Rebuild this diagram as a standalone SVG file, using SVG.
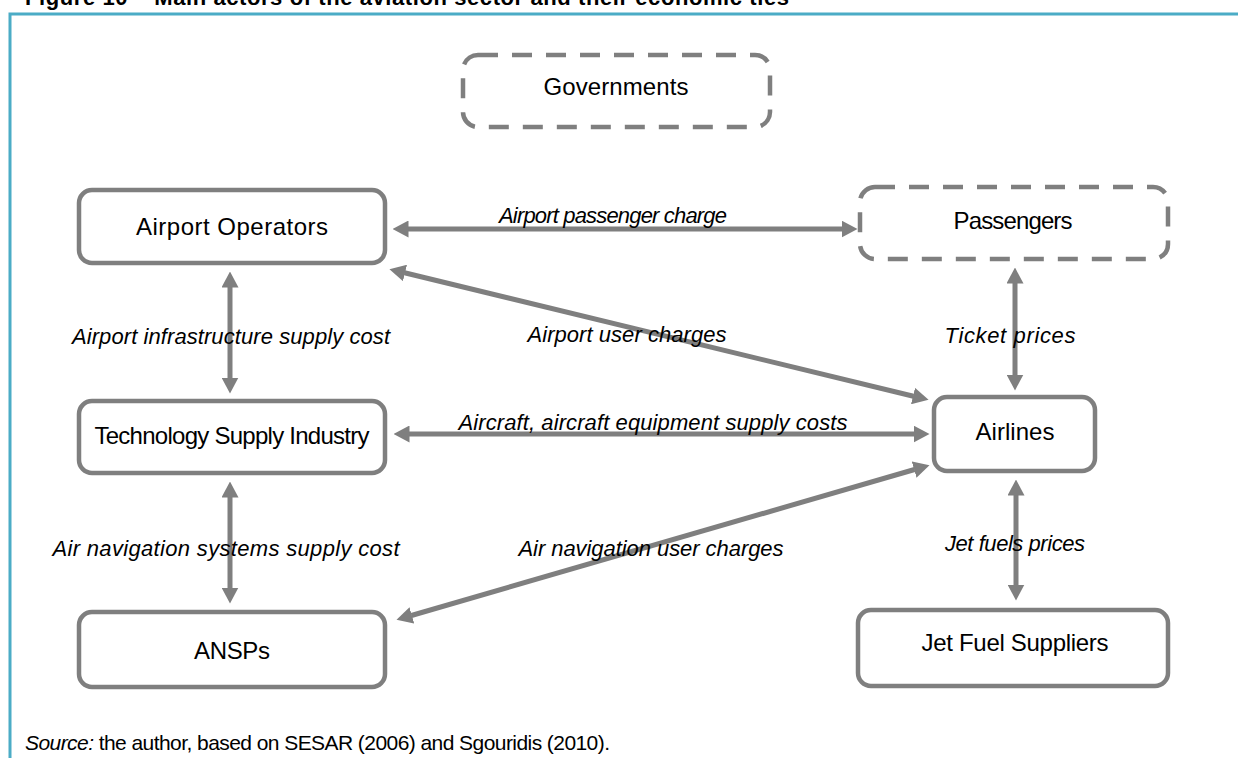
<svg xmlns="http://www.w3.org/2000/svg" width="1238" height="758" viewBox="0 0 1238 758">
<style>
.box{fill:#fff;stroke:#7f7f7f;stroke-width:4.5}
.dash{fill:#fff;stroke:#7f7f7f;stroke-width:4.5;stroke-dasharray:20 14}
.nl{font-family:"Liberation Sans",Arial,sans-serif;font-size:24px;fill:#000;text-anchor:middle}
.el{font-family:"Liberation Sans",Arial,sans-serif;font-size:22px;font-style:italic;fill:#000;text-anchor:middle}
.con{stroke:#7f7f7f;stroke-width:5;fill:none;marker-start:url(#ah);marker-end:url(#ah)}
</style>
<defs>
<marker id="ah" viewBox="0 0 16 17" markerWidth="16" markerHeight="17" refX="0.5" refY="8.5" orient="auto-start-reverse" markerUnits="userSpaceOnUse">
<path d="M0,0 L16,8.5 L0,17 z" fill="#7f7f7f"/>
</marker>
</defs>
<rect width="1238" height="758" fill="#fff"/>
<text x="25" y="5" font-family="'Liberation Sans',Arial,sans-serif" font-size="22" font-weight="bold" textLength="764">Figure 10 – Main actors of the aviation sector and their economic ties</text>
<path d="M10,758 V14 H1238" fill="none" stroke="#4BACC6" stroke-width="3"/>

<g id="connectors">
<line class="con" x1="408" y1="229" x2="842" y2="229"/>
<line class="con" x1="404.5" y1="272.8" x2="913.5" y2="396.2"/>
<line class="con" x1="1015" y1="283" x2="1015" y2="375"/>
<line class="con" x1="230" y1="287" x2="230" y2="378"/>
<line class="con" x1="409" y1="434" x2="914" y2="434"/>
<line class="con" x1="230" y1="497" x2="230" y2="588"/>
<line class="con" x1="411.4" y1="615.5" x2="914.6" y2="469.5"/>
<line class="con" x1="1016" y1="495" x2="1016" y2="585"/>
<text class="el" x="613" y="223" textLength="228">Airport passenger charge</text>
<text class="el" x="627" y="342" textLength="199">Airport user charges</text>
<text class="el" x="1010" y="343" textLength="131">Ticket prices</text>
<text class="el" x="231" y="344" textLength="318">Airport infrastructure supply cost</text>
<text class="el" x="653" y="430" textLength="389">Aircraft, aircraft equipment supply costs</text>
<text class="el" x="226" y="556" textLength="347">Air navigation systems supply cost</text>
<text class="el" x="651" y="556" textLength="265">Air navigation user charges</text>
<text class="el" x="1015" y="551" textLength="140">Jet fuels prices</text>
</g>

<g id="governments">
<rect class="dash" x="463" y="55" width="307" height="72" rx="15"/>
<text class="nl" x="616" y="95" textLength="145">Governments</text>
</g>
<g id="airport-operators">
<rect class="box" x="79" y="190" width="306" height="73" rx="13"/>
<text class="nl" x="232" y="235" textLength="192">Airport Operators</text>
</g>
<g id="passengers">
<rect class="dash" x="860" y="187" width="308" height="72" rx="15"/>
<text class="nl" x="1013" y="229" textLength="119">Passengers</text>
</g>
<g id="technology-supply-industry">
<rect class="box" x="79" y="401" width="306" height="72" rx="13"/>
<text class="nl" x="232" y="444" textLength="275">Technology Supply Industry</text>
</g>
<g id="airlines">
<rect class="box" x="934" y="397" width="161" height="74" rx="13"/>
<text class="nl" x="1015" y="440" textLength="79">Airlines</text>
</g>
<g id="ansps">
<rect class="box" x="79" y="612" width="306" height="75" rx="13"/>
<text class="nl" x="232" y="659" textLength="76">ANSPs</text>
</g>
<g id="jet-fuel-suppliers">
<rect class="box" x="858" y="610" width="310" height="76" rx="13"/>
<text class="nl" x="1015" y="651" textLength="187">Jet Fuel Suppliers</text>
</g>

<text x="25" y="750" font-family="'Liberation Sans',Arial,sans-serif" font-size="21" fill="#000" textLength="585"><tspan font-style="italic">Source:</tspan> the author, based on SESAR (2006) and Sgouridis (2010).</text>
</svg>
